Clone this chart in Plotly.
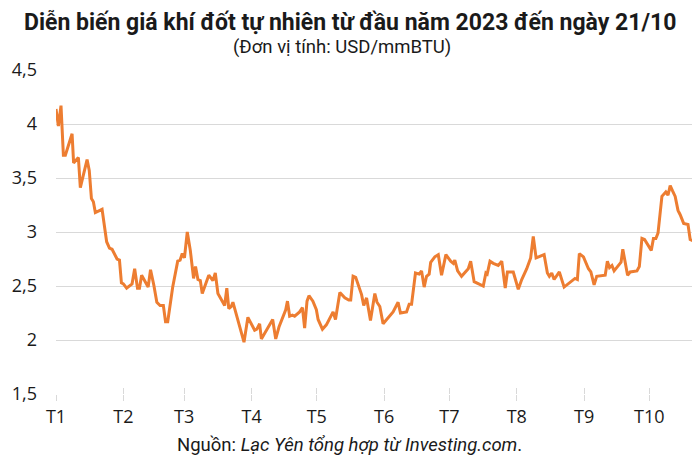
import pandas as pd
import plotly.graph_objects as go

# Day offsets from 1 Jan 2023 and prices (USD/mmBTU)
day_offset = [0, 1.1, 2.3, 3.4, 4.3, 7.4, 8.1, 9.2, 10.3, 11.2, 14.3, 15.3, 16.3, 17.2, 18.1,
              21.2, 23.3, 24.6, 25.8, 28.1, 29.2, 30.1, 31.0, 32.5, 35.0, 36.2, 37.5, 38.4,
              39.4, 42.4, 43.5, 45.0, 46.4, 47.9, 49.4, 50.4, 51.4, 53.7, 56.0, 57.1, 58.1,
              59.1, 60.4, 61.8, 63.3, 64.2, 65.3, 66.4, 67.3, 70.3, 72.2, 73.3, 74.5, 77.6,
              78.6, 79.5, 80.6, 81.4, 84.5, 86.5, 88.3, 91.4, 92.4, 93.7, 94.5, 99.1, 99.7,
              101.1, 102.6, 105.7, 106.5, 107.5, 108.8, 109.8, 112.1, 113.4, 114.4, 115.5,
              116.4, 118.2, 119.8, 120.6, 122.6, 124.4, 127.5, 128.6, 130.6, 132.9, 134.7,
              135.6, 136.7, 137.9, 140.6, 141.6, 142.9, 144.7, 146.7, 147.7, 149.0, 150.5,
              155.1, 157.4, 158.5, 161.3, 162.5, 163.6, 165.4, 167.1, 168.2, 169.4, 170.5,
              171.7, 172.4, 174.3, 175.9, 177.4, 179.4, 181.6, 182.8, 183.5, 184.8, 186.6,
              189.7, 190.8, 192.4, 196.6, 197.8, 198.4, 199.7, 201.2, 203.5, 205.1, 206.7,
              207.7, 210.4, 212.7, 214.3, 216.6, 218.4, 219.6, 220.9, 224.6, 226.1, 227.0,
              228.1, 229.2, 231.6, 233.8, 236.6, 238.8, 239.9, 240.8, 242.7, 245.0, 246.1,
              247.6, 248.8, 252.7, 253.7, 254.7, 255.8, 256.8, 260.0, 260.8, 263.0, 264.2,
              267.3, 268.4, 269.6, 270.8, 273.9, 274.9, 276.0, 277.0, 278.8, 279.9, 280.6,
              281.6, 282.6, 283.7, 284.9, 286.2, 287.2, 288.8, 290.8, 291.8, 292.9]
price = [4.14, 3.98, 4.17, 3.71, 3.71, 3.91, 3.64, 3.67, 3.69, 3.41, 3.67, 3.57, 3.31, 3.28, 3.18,
         3.21, 2.91, 2.85, 2.84, 2.75, 2.74, 2.53, 2.52, 2.48, 2.52, 2.66, 2.48, 2.48,
         2.60, 2.49, 2.65, 2.51, 2.35, 2.32, 2.32, 2.17, 2.17, 2.49, 2.73, 2.74, 2.80,
         2.76, 3.00, 2.83, 2.57, 2.68, 2.56, 2.55, 2.43, 2.60, 2.55, 2.62, 2.43, 2.32,
         2.48, 2.29, 2.31, 2.35, 2.11, 1.98, 2.21, 2.09, 2.10, 2.15, 2.01, 2.18, 2.19,
         2.01, 2.12, 2.28, 2.36, 2.22, 2.23, 2.22, 2.26, 2.30, 2.11, 2.36,
         2.41, 2.36, 2.28, 2.19, 2.10, 2.14, 2.26, 2.19, 2.44, 2.39, 2.37,
         2.37, 2.59, 2.58, 2.42, 2.32, 2.39, 2.18, 2.43, 2.35, 2.31, 2.15,
         2.26, 2.35, 2.25, 2.26, 2.33, 2.33, 2.62, 2.61, 2.64, 2.49, 2.59,
         2.61, 2.72, 2.77, 2.79, 2.60, 2.79, 2.73, 2.71, 2.74, 2.64, 2.59,
         2.66, 2.73, 2.54, 2.50, 2.62, 2.61, 2.73, 2.71, 2.69, 2.73, 2.48,
         2.63, 2.63, 2.47, 2.56, 2.66, 2.76, 2.96, 2.76, 2.79, 2.62, 2.59,
         2.62, 2.56, 2.63, 2.49, 2.54, 2.57, 2.56, 2.80, 2.77, 2.66, 2.63,
         2.51, 2.59, 2.60, 2.73, 2.67, 2.69, 2.64, 2.72, 2.84, 2.60, 2.63,
         2.64, 2.68, 2.94, 2.93, 2.83, 2.94, 2.94, 2.99, 3.33, 3.35, 3.37,
         3.34, 3.43, 3.38, 3.33, 3.20, 3.16, 3.08, 3.07, 2.93, 2.92]

month_starts = ["2023-01-01", "2023-02-01", "2023-03-01", "2023-04-01", "2023-05-01",
                "2023-06-01", "2023-07-01", "2023-08-01", "2023-09-01", "2023-10-01"]
month_labels = ["T1", "T2", "T3", "T4", "T5", "T6", "T7", "T8", "T9", "T10"]
y_ticks = [1.5, 2, 2.5, 3, 3.5, 4, 4.5]
y_labels = ["1,5", "2", "2,5", "3", "3,5", "4", "4,5"]

base = pd.Timestamp("2023-01-01")
dates = [base + pd.Timedelta(days=d) for d in day_offset]
x_end = base + pd.Timedelta(days=293.1)

fig = go.Figure()
fig.add_trace(go.Scatter(x=dates, y=price, mode="lines",
                         line=dict(color="#ED7D31", width=3), hoverinfo="x+y",
                         showlegend=False))
# invisible trace so the overlay axis (inner half of the tick marks) is drawn
fig.add_trace(go.Scatter(x=[base], y=[None], xaxis="x2", yaxis="y",
                         mode="lines", showlegend=False, hoverinfo="skip"))

grid = "#D9D9D9"
tick_font = dict(family="Open Sans, Noto Sans, sans-serif", size=18, color="#1a1a1a")
text_font = "Roboto, sans-serif"

# page body has an 8px margin, so the figure is 8px smaller than the window
fig.update_layout(
    width=692, height=459,
    margin=dict(l=48, r=7, t=62, b=73, autoexpand=False),
    plot_bgcolor="white", paper_bgcolor="white",
    xaxis=dict(type="date", range=[base, x_end], tickvals=month_starts,
               ticktext=month_labels, showgrid=False, zeroline=False,
               showline=False, ticks="outside", ticklen=6, tickcolor=grid,
               tickwidth=1, tickfont=tick_font, ticklabelstandoff=0, automargin=False),
    xaxis2=dict(type="date", range=[base, x_end], overlaying="x", anchor="y",
                side="bottom", tickvals=month_starts, showticklabels=False,
                showgrid=False, zeroline=False, showline=False,
                ticks="inside", ticklen=6, tickcolor=grid, tickwidth=1, automargin=False),
    yaxis=dict(range=[1.5, 4.5], tickvals=y_ticks, ticktext=y_labels,
               showgrid=True, gridcolor=grid, gridwidth=1, zeroline=False,
               showline=False, tickfont=tick_font, ticklabelstandoff=18, automargin=False),
)

fig.add_annotation(text="<b>Diễn biến giá khí đốt tự nhiên từ đầu năm 2023 đến ngày 21/10</b>",
                   xref="paper", yref="paper", x=0.4615, y=1.0, yshift=48,
                   xanchor="center", yanchor="middle", showarrow=False,
                   font=dict(family=text_font, size=23, color="#1a1a1a"))
fig.add_annotation(text="(Đơn vị tính: USD/mmBTU)",
                   xref="paper", yref="paper", x=0.449, y=1.0, yshift=23,
                   xanchor="center", yanchor="middle", showarrow=False,
                   font=dict(family=text_font, size=18.5, color="#1a1a1a"))
fig.add_annotation(text="Nguồn: <i>Lạc Yên tổng hợp từ Investing.com</i>.",
                   xref="paper", yref="paper", x=0.4615, y=0.0, yshift=-51,
                   xanchor="center", yanchor="middle", showarrow=False,
                   font=dict(family=text_font, size=18.5, color="#1a1a1a"))

fig.write_html("out.html")
